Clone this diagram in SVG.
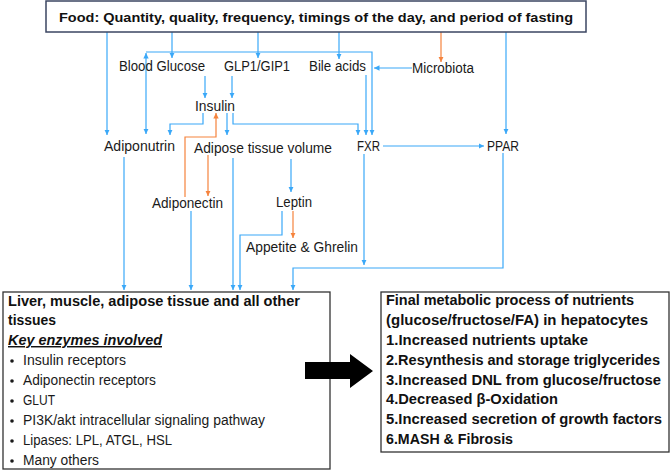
<svg xmlns="http://www.w3.org/2000/svg" width="672" height="473" viewBox="0 0 672 473">
<style>
  .lbl{font-family:"Liberation Sans",Arial,sans-serif;font-size:14px;fill:#1a1a1a}
  .bx{font-family:"Liberation Sans",Arial,sans-serif;font-size:14px;fill:#1a1a1a}
  .bd{font-family:"Liberation Sans",Arial,sans-serif;font-size:14.5px;font-weight:bold;fill:#111}
  .tt{font-family:"Liberation Sans",Arial,sans-serif;font-size:13.5px;font-weight:bold;fill:#111}
  .c{fill:none;stroke:#3aa8f8;stroke-width:1.2}
  .o{fill:none;stroke:#f5833d;stroke-width:1.2}
  .box{fill:#fff;stroke:#333;stroke-width:1.3}
</style>
<defs>
  <marker id="ab" markerUnits="userSpaceOnUse" markerWidth="6" markerHeight="6" refX="5.5" refY="3" orient="auto-start-reverse">
    <path d="M0,0.3 L5.5,3 L0,5.7 z" fill="#3aa8f8"/>
  </marker>
  <marker id="ao" markerUnits="userSpaceOnUse" markerWidth="6" markerHeight="6" refX="5.5" refY="3" orient="auto">
    <path d="M0,0.3 L5.5,3 L0,5.7 z" fill="#f5833d"/>
  </marker>
</defs>
<rect width="672" height="473" fill="#fff"/>

<g id="connectors">
  <path class="c" d="M107,32 V135" marker-end="url(#ab)"/>
  <path class="c" d="M172,32 V58" marker-end="url(#ab)"/>
  <path class="c" d="M258,32 V58" marker-end="url(#ab)"/>
  <path class="c" d="M339,32 V59" marker-end="url(#ab)"/>
  <path class="o" d="M441,32 V62" marker-end="url(#ao)"/>
  <path class="c" d="M506,32 V134" marker-end="url(#ab)"/>
  <path class="c" d="M146,53 V134" marker-start="url(#ab)" marker-end="url(#ab)"/>
  <path class="c" d="M146,52 H372 V135" marker-end="url(#ab)"/>
  <path class="c" d="M412,68 H374" marker-end="url(#ab)"/>
  <path class="c" d="M366,75 V135" marker-end="url(#ab)"/>
  <path class="c" d="M205,76 V98" marker-end="url(#ab)"/>
  <path class="c" d="M232,76 V98" marker-end="url(#ab)"/>
  <path class="c" d="M203,113 V124 H170 V135" marker-end="url(#ab)"/>
  <path class="c" d="M227,113 V135" marker-end="url(#ab)"/>
  <path class="c" d="M233,113 V124 H358 V135" marker-end="url(#ab)"/>
  <path class="o" d="M185,197 V137 H216 V113" marker-end="url(#ao)"/>
  <path class="o" d="M208,155 V196" marker-end="url(#ao)"/>
  <path class="c" d="M291,159 V192" marker-end="url(#ab)"/>
  <path class="o" d="M293,211 V238" marker-end="url(#ao)"/>
  <path class="c" d="M282,211 V235 H240 V290" marker-end="url(#ab)"/>
  <path class="c" d="M233,158 V290" marker-end="url(#ab)"/>
  <path class="c" d="M191,211 V290" marker-end="url(#ab)"/>
  <path class="c" d="M124,157 V290" marker-end="url(#ab)"/>
  <path class="c" d="M364,154 V265" marker-end="url(#ab)"/>
  <path class="c" d="M383,146 H484" marker-end="url(#ab)"/>
  <path class="c" d="M503,153 V268 H293 V290" marker-end="url(#ab)"/>
</g>

<g id="food">
  <rect x="46" y="1" width="540" height="31" fill="#fff" stroke="#3b4662" stroke-width="1.5"/>
  <text class="tt" x="59" y="21.5" textLength="514" lengthAdjust="spacingAndGlyphs">Food: Quantity, quality, frequency, timings of the day, and period of fasting</text>
</g>
<g id="blood-glucose"><text class="lbl" x="119" y="71" textLength="86" lengthAdjust="spacingAndGlyphs">Blood Glucose</text></g>
<g id="glp1"><text class="lbl" x="224" y="71" textLength="66" lengthAdjust="spacingAndGlyphs">GLP1/GIP1</text></g>
<g id="bile-acids"><text class="lbl" x="309" y="71" textLength="57" lengthAdjust="spacingAndGlyphs">Bile acids</text></g>
<g id="microbiota"><text class="lbl" x="412" y="73" textLength="62" lengthAdjust="spacingAndGlyphs">Microbiota</text></g>
<g id="insulin"><text class="lbl" x="195" y="111" textLength="40" lengthAdjust="spacingAndGlyphs">Insulin</text></g>
<g id="adiponutrin"><text class="lbl" x="104" y="151" textLength="71" lengthAdjust="spacingAndGlyphs">Adiponutrin</text></g>
<g id="adipose"><text class="lbl" x="194" y="153" textLength="138" lengthAdjust="spacingAndGlyphs">Adipose tissue volume</text></g>
<g id="fxr"><text class="lbl" x="357" y="151" textLength="23" lengthAdjust="spacingAndGlyphs">FXR</text></g>
<g id="ppar"><text class="lbl" x="487" y="151" textLength="32" lengthAdjust="spacingAndGlyphs">PPAR</text></g>
<g id="adiponectin"><text class="lbl" x="152" y="208" textLength="71" lengthAdjust="spacingAndGlyphs">Adiponectin</text></g>
<g id="leptin"><text class="lbl" x="276" y="207" textLength="36" lengthAdjust="spacingAndGlyphs">Leptin</text></g>
<g id="appetite"><text class="lbl" x="246" y="252" textLength="112" lengthAdjust="spacingAndGlyphs">Appetite &amp; Ghrelin</text></g>

<g id="tissues">
  <rect class="box" x="3" y="292" width="327" height="177"/>
  <text class="bd" x="8" y="306" textLength="292" lengthAdjust="spacingAndGlyphs">Liver, muscle, adipose tissue and all other</text>
  <text class="bd" x="8" y="325" textLength="48" lengthAdjust="spacingAndGlyphs">tissues</text>
  <text class="bd" x="8" y="345" font-style="italic" text-decoration="underline" textLength="154" lengthAdjust="spacingAndGlyphs">Key enzymes involved</text>
  <g fill="#1a1a1a">
    <circle cx="12" cy="361" r="1.8"/><circle cx="12" cy="381" r="1.8"/><circle cx="12" cy="401" r="1.8"/>
    <circle cx="12" cy="421" r="1.8"/><circle cx="12" cy="441" r="1.8"/><circle cx="12" cy="461" r="1.8"/>
  </g>
  <text class="bx" x="23" y="365" textLength="103" lengthAdjust="spacingAndGlyphs">Insulin receptors</text>
  <text class="bx" x="23" y="385" textLength="133" lengthAdjust="spacingAndGlyphs">Adiponectin receptors</text>
  <text class="bx" x="23" y="405" textLength="32" lengthAdjust="spacingAndGlyphs">GLUT</text>
  <text class="bx" x="23" y="425" textLength="242" lengthAdjust="spacingAndGlyphs">PI3K/akt intracellular signaling pathway</text>
  <text class="bx" x="23" y="445" textLength="149" lengthAdjust="spacingAndGlyphs">Lipases: LPL, ATGL, HSL</text>
  <text class="bx" x="23" y="465" textLength="76" lengthAdjust="spacingAndGlyphs">Many others</text>
</g>

<g id="big-arrow">
  <path d="M305,362 H350 V354 L373,371 L350,388 V379 H305 z" fill="#000"/>
</g>

<g id="final">
  <rect class="box" x="381" y="292" width="288" height="160"/>
  <text class="bd" x="386" y="305" textLength="248" lengthAdjust="spacingAndGlyphs">Final metabolic process of nutrients</text>
  <text class="bd" x="386" y="325" textLength="262" lengthAdjust="spacingAndGlyphs">(glucose/fructose/FA) in hepatocytes</text>
  <text class="bd" x="386" y="345" textLength="202" lengthAdjust="spacingAndGlyphs">1.Increased nutrients uptake</text>
  <text class="bd" x="386" y="365" textLength="274" lengthAdjust="spacingAndGlyphs">2.Resynthesis and storage triglycerides</text>
  <text class="bd" x="386" y="385" textLength="275" lengthAdjust="spacingAndGlyphs">3.Increased DNL from glucose/fructose</text>
  <text class="bd" x="386" y="404" textLength="172" lengthAdjust="spacingAndGlyphs">4.Decreased β-Oxidation</text>
  <text class="bd" x="386" y="424" textLength="276" lengthAdjust="spacingAndGlyphs">5.Increased secretion of growth factors</text>
  <text class="bd" x="386" y="444" textLength="127" lengthAdjust="spacingAndGlyphs">6.MASH &amp; Fibrosis</text>
</g>
</svg>
